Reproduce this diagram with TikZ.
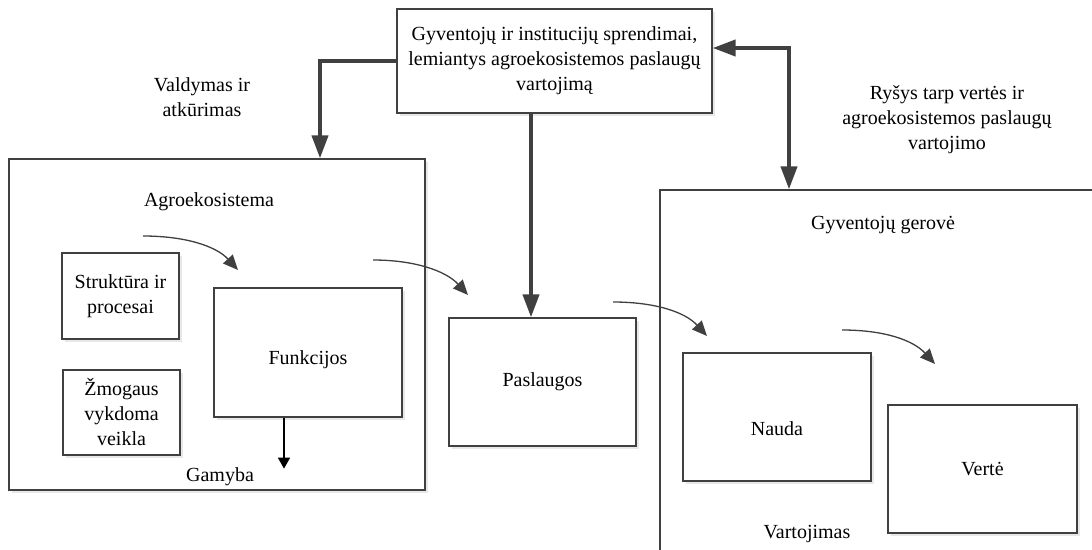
\documentclass[tikz,border=0pt]{standalone}
\usepackage{fontspec}
\setmainfont{Liberation Serif}
\usetikzlibrary{arrows.meta,shadows}
\definecolor{edge}{HTML}{404040}
\begin{document}
\begin{tikzpicture}[x=1pt,y=-1pt,
  lbl/.style={font=\fontsize{20}{25}\selectfont, align=center, inner sep=0pt},
  box/.style={lbl, draw=edge, line width=1.3pt, fill=white,
    drop shadow={shadow xshift=2.5pt, shadow yshift=-2.5pt, fill=black!9, opacity=1}},
  flowarrow/.style={draw=edge, line width=4pt, -{Triangle[length=23pt,width=16pt]}},
  bothflow/.style={draw=edge, line width=4pt,
    {Triangle[length=23pt,width=16pt]}-{Triangle[length=23pt,width=16pt]}},
  curvearrow/.style={draw=edge, line width=1.3pt, -{Triangle[length=15pt,width=13pt]}},
  outarrow/.style={draw=black, line width=1.4pt, -{Triangle[length=11pt,width=12pt]}}
]
\useasboundingbox (0,0) rectangle (1092,549);
\clip (0,0) rectangle (1092,549);

% outer frames
\node[box, minimum width=416pt, minimum height=331pt] (agro) at (217,324.5) {};
\node[box, minimum width=450pt, minimum height=380pt] (welfare) at (885,380) {};

% decision box
\node[box, minimum width=315pt, minimum height=104pt] (decide) at (554.5,61)
  {Gyventojų ir institucijų sprendimai,\\lemiantys agroekosistemos paslaugų\\vartojimą};

% inner boxes
\node[box, minimum width=117pt, minimum height=86pt] (struct) at (120.5,296) {Struktūra ir\\procesai};
\node[box, minimum width=117pt, minimum height=85pt] (human) at (121.5,412.5) {Žmogaus\\vykdoma\\veikla};
\node[box, minimum width=188pt, minimum height=129pt] (func) at (308,352.5) {};
\node[lbl] (functxt) at ([yshift=-7pt]func.center) {Funkcijos};
\node[box, minimum width=187pt, minimum height=128pt] (serv) at (542.5,382) {Paslaugos};
\node[box, minimum width=188pt, minimum height=128pt] (benefit) at (777,417) {};
\node[lbl] (benefittxt) at ([yshift=-12pt]benefit.center) {Nauda};
\node[box, minimum width=189pt, minimum height=128pt] (value) at (982.5,469) {Vertė};

% free labels
\node[lbl] (agrotxt) at (209,202) {Agroekosistema};
\node[lbl] (prodtxt) at (220,477) {Gamyba};
\node[lbl] (welfaretxt) at (883,225) {Gyventojų gerovė};
\node[lbl] (constxt) at (807,534) {Vartojimas};
\node[lbl] (mgmttxt) at (202,97) {Valdymas ir\\atkūrimas};
\node[lbl] (linktxt) at (947,120) {Ryšys tarp vertės ir\\agroekosistemos paslaugų\\vartojimo};

% main flows from the decision box
\draw[flowarrow] (decide.west) -| ([xshift=103pt]agro.north);
\draw[flowarrow] ([xshift=-11.5pt]serv.north |- decide.south) -- ([xshift=-11.5pt]serv.north);
\draw[bothflow] ([yshift=13pt]decide.east) -| ([xshift=-96pt]welfare.north);

% production output
\draw[outarrow] ([xshift=-24pt]func.south) -- ++(0,51);

% curved process arrows
\coordinate (c1s) at (143,236); \coordinate (c1e) at (238,270);
\coordinate (c2s) at (373,260); \coordinate (c2e) at (468,295);
\coordinate (c3s) at (613,302); \coordinate (c3e) at (707,336);
\coordinate (c4s) at (842,330); \coordinate (c4e) at (935,364);
\draw[curvearrow] (c1s) .. controls +(42,0) and +(-22,-24) .. (c1e);
\draw[curvearrow] (c2s) .. controls +(42,0) and +(-22,-24) .. (c2e);
\draw[curvearrow] (c3s) .. controls +(42,0) and +(-22,-24) .. (c3e);
\draw[curvearrow] (c4s) .. controls +(42,0) and +(-22,-24) .. (c4e);
\end{tikzpicture}
\end{document}
